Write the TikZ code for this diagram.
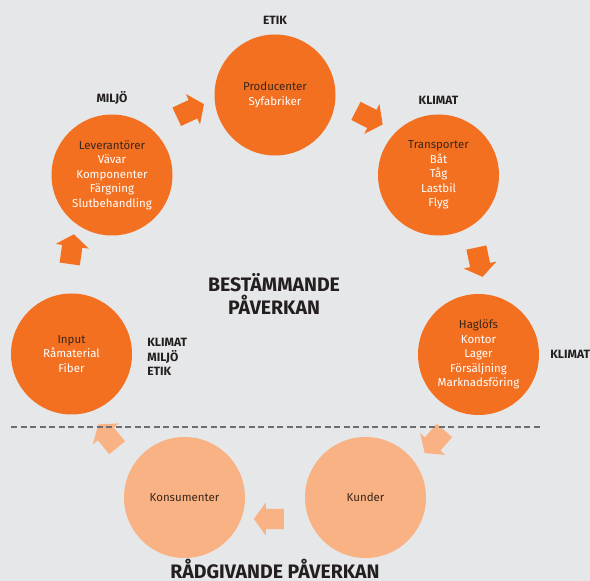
\documentclass[tikz,border=0pt]{standalone}
\usepackage{fontspec}
\setmainfont{Fira Sans}
\usepackage{tikz}
\usetikzlibrary{positioning, shapes.arrows}

\definecolor{paper}{HTML}{E6E7E9}
\definecolor{hot}{HTML}{F37021}
\definecolor{mild}{HTML}{F9B283}
\definecolor{ink}{HTML}{3A2618}
\definecolor{tagink}{HTML}{231F20}
\definecolor{rulegray}{HTML}{6D6E71}

\tikzset{
    stage/.style = {circle, fill=hot, minimum size=121pt, inner sep=0pt, align=center,
        text=white, font=\fontsize{11.5}{14.5}\selectfont},
    advice/.style = {stage, fill=mild, text=ink},
    flow/.style = {single arrow, fill=hot, minimum height=30pt, text height=20pt, text depth=0pt,
        single arrow head extend=6.5pt, single arrow tip angle=108, inner sep=0pt},
    backflow/.style = {flow, fill=mild},
    tag/.style = {text=tagink, inner sep=0pt, align=left,
        font=\bfseries\fontsize{12}{14.5}\selectfont},
    headline/.style = {tag, align=center, font=\bfseries\fontsize{19.5}{23}\selectfont},
    divider/.style = {rulegray, line width=1.5pt, dash pattern=on 6pt off 3.5pt}
}
\newcommand{\lead}[1]{\textcolor{ink}{#1}}

\begin{document}
\begin{tikzpicture}[x=1pt, y=1pt]
    \fill [paper] (0,0) rectangle (590,581);
    \useasboundingbox (0,0) rectangle (590,581);

    % the ring of stages
    \node [stage] (prod) at (275,486) {\lead{Producenter}\\Syfabriker};
    \node [stage] (lev) at (112,406) {\lead{Leverantörer}\\Vävar\\Komponenter\\Färgning\\Slutbehandling};
    \node [stage] (trans) at (438.5,406) {\lead{Transporter}\\Båt\\Tåg\\Lastbil\\Flyg};
    \node [stage] (input) at (71.5,227) {\lead{Input}\\Råmaterial\\Fiber};
    \node [stage] (hag) at (478.5,226.5) {\lead{Haglöfs}\\Kontor\\Lager\\Försäljning\\Marknadsföring};
    \node [advice] (kons) at (184.5,83.5) {Konsumenter};
    \node [advice] (kund) at (365.5,83.5) {Kunder};

    % block arrows between the stages
    \node [flow, rotate=25] (levprod) at (187,469) {};
    \node [flow, rotate=-27] (prodtrans) at (366,465) {};
    \node [flow, rotate=-78] (transhag) at (478.7,322.4) {};
    \node [backflow, rotate=-131] (hagkund) at (437,142) {};
    \node [backflow, rotate=180] (kundkons) at (272.5,62) {};
    \node [backflow, rotate=129] (konsinput) at (110,142) {};
    \node [flow, rotate=82] (inputlev) at (71.3,328.2) {};

    % impact tags
    \node [tag, above = 10pt of prod] (etik) {ETIK};
    \node [tag, above = 10pt of lev] (miljo) {MILJÖ};
    \node [tag, above = 10pt of trans] (klimat) {KLIMAT};
    \node [tag, right = 15pt of input, yshift=-3pt] (inputtags) {KLIMAT\\MILJÖ\\ETIK};
    \node [tag, right = 11pt of hag] (hagtag) {KLIMAT};

    \node [headline] (decide) at (274,287.5) {BESTÄMMANDE\\PÅVERKAN};

    % split between deciding and advising
    \coordinate (splitl) at (11,154);
    \coordinate (splitr) at (540,154);
    \draw [divider] (splitl) -- (splitr);

    \node [headline, anchor=base] (advise) at (275,2) {RÅDGIVANDE PÅVERKAN};
\end{tikzpicture}
\end{document}
